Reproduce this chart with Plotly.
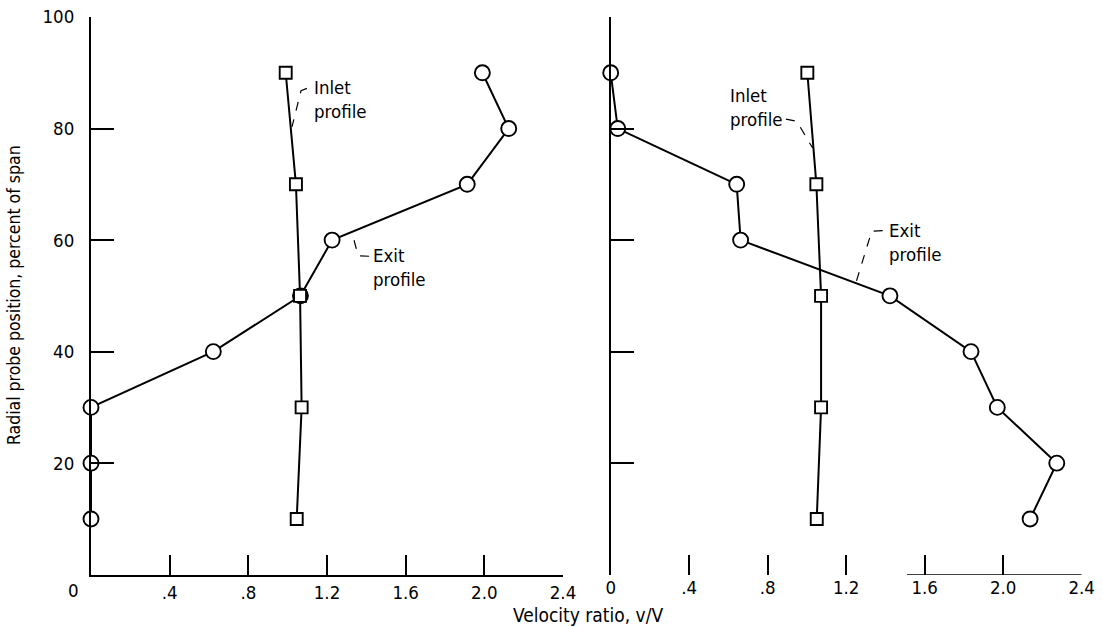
import plotly.graph_objects as go

# Radial probe positions (percent of span)
span_pct = [90, 80, 70, 60, 50, 40, 30, 20, 10]
inlet_span = [90, 70, 50, 30, 10]

# Left panel: velocity ratio v/V
left_inlet = [0.99, 1.042, 1.063, 1.071, 1.046]
left_exit = [1.99, 2.124, 1.913, 1.226, 1.065, 0.622, 0.0, 0.0, 0.0]

# Right panel: velocity ratio v/V
right_inlet = [1.002, 1.048, 1.072, 1.072, 1.05]
right_exit = [0.0, 0.036, 0.642, 0.662, 1.423, 1.836, 1.97, 2.273, 2.137]

x_ticks = [0.4, 0.8, 1.2, 1.6, 2.0, 2.4]
x_tick_text = [".4", ".8", "1.2", "1.6", "2.0", "2.4"]
x_ticks_right = [0, 0.4, 0.8, 1.2, 1.6, 2.0, 2.4]
x_tick_text_right = ["0", ".4", ".8", "1.2", "1.6", "2.0", "2.4"]
y_ticks = [20, 40, 60, 80, 100]

FONT = "Liberation Sans Narrow, DejaVu Sans Condensed, Arial Narrow, sans-serif"
W, H = 1103, 627

fig = go.Figure()

line_style = dict(color="black", width=2)


def add_profile(xs, ys, symbol, size, xa, ya):
    fig.add_trace(go.Scatter(
        x=xs, y=ys, mode="lines+markers", xaxis=xa, yaxis=ya,
        line=line_style, cliponaxis=False, showlegend=False,
        marker=dict(symbol=symbol, size=size, color="white",
                    line=dict(color="black", width=1.9)),
    ))


add_profile(left_exit, span_pct, "circle", 15, "x", "y")
add_profile(left_inlet, inlet_span, "square", 12, "x", "y")
add_profile(right_exit, span_pct, "circle", 15, "x2", "y2")
add_profile(right_inlet, inlet_span, "square", 12, "x2", "y2")

axis_common = dict(
    showgrid=False, zeroline=False, showline=True, linecolor="black",
    linewidth=2, ticks="inside", tickcolor="black", tickwidth=1.8,
    automargin=False,
    tickfont=dict(family=FONT, size=18.5, color="black"),
)

fig.update_layout(
    template="none",
    width=W, height=H, margin=dict(l=0, r=0, t=0, b=0, pad=0),
    paper_bgcolor="white", plot_bgcolor="white",
    font=dict(family=FONT, color="black"),
    xaxis=dict(axis_common, domain=[91 / W, 563 / W], range=[0, 2.4],
               tickvals=x_ticks, ticktext=x_tick_text, ticklen=20,
               anchor="y"),
    yaxis=dict(axis_common, domain=[1 - 574.7 / H, 1 - 17 / H],
               range=[0, 100], tickvals=y_ticks, ticklen=23,
               ticklabelstandoff=11, anchor="x"),
    xaxis2=dict(axis_common, domain=[610.7 / W, 1081.7 / W], range=[0, 2.4],
                tickvals=x_ticks_right, ticktext=x_tick_text_right,
                ticklen=20, showline=False, anchor="y2"),
    yaxis2=dict(axis_common, domain=[1 - 574.7 / H, 1 - 17 / H],
                range=[0, 100], tickvals=y_ticks, ticklen=23,
                showticklabels=False, anchor="x2"),
)

# Partial baseline of the right panel
fig.add_shape(type="line", xref="x2", yref="y2", x0=1.51, x1=2.4, y0=0, y1=0,
              line=dict(color="black", width=1.6))

# Dashed leaders from the profile labels to the curves
leaders = [
    ("x", "y", [(1.098, 87.2), (1.068, 86.8), (1.022, 80.3)]),
    ("x", "y", [(1.414, 57.1), (1.358, 57.2), (1.330, 61.0)]),
    ("x2", "y2", [(0.893, 81.7), (0.948, 81.3), (1.029, 76.5)]),
    ("x2", "y2", [(1.386, 61.7), (1.330, 61.6), (1.250, 52.4)]),
]
for xr, yr, pts in leaders:
    path = "M " + " L ".join(f"{px},{py}" for px, py in pts)
    fig.add_shape(type="path", xref=xr, yref=yr, path=path,
                  line=dict(color="black", width=1.2, dash="dash"))

labels = [
    ("x", "y", 1.122, 85.2, "Inlet<br>profile"),
    ("x", "y", 1.426, 55.1, "Exit<br>profile"),
    ("x2", "y2", 0.599, 83.8, "Inlet<br>profile"),
    ("x2", "y2", 1.406, 59.6, "Exit<br>profile"),
]
for xr, yr, lx, ly, txt in labels:
    fig.add_annotation(xref=xr, yref=yr, x=lx, y=ly, text=txt,
                       showarrow=False, xanchor="left", yanchor="middle",
                       align="left", font=dict(family=FONT, size=18.5, color="black"))

# Corner zero of the left panel
fig.add_annotation(xref="paper", yref="paper", x=81 / W, y=1 - 590 / H,
                   text="0", showarrow=False, xanchor="right", yanchor="middle",
                   font=dict(family=FONT, size=18.5, color="black"))

# Axis titles
fig.add_annotation(xref="paper", yref="paper", x=588 / W, y=1 - 615 / H,
                   text="Velocity ratio, v/V", showarrow=False,
                   xanchor="center", yanchor="middle",
                   font=dict(family=FONT, size=19, color="black"))
fig.add_annotation(xref="paper", yref="paper", x=14 / W, y=1 - 295 / H,
                   text="Radial probe position, percent of span", showarrow=False,
                   textangle=-90, xanchor="center", yanchor="middle",
                   font=dict(family=FONT, size=17.5, color="black"))

fig.write_html("out.html")
